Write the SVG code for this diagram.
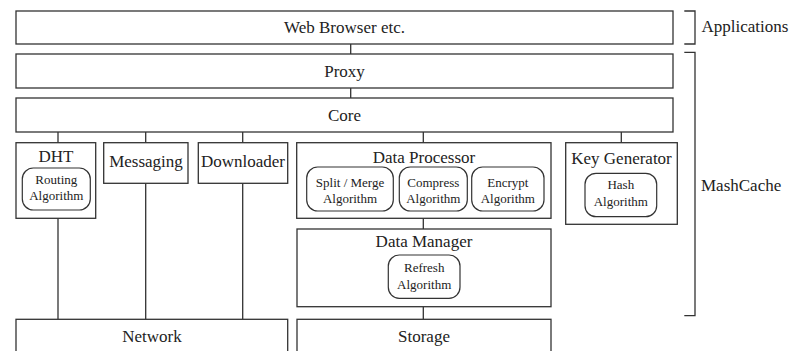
<svg xmlns="http://www.w3.org/2000/svg" width="789" height="351" viewBox="0 0 789 351">
<style>
.b{fill:#fff;stroke:#333;stroke-width:1.3}
.r{fill:#fff;stroke:#333;stroke-width:1.2}
.l{fill:none;stroke:#333;stroke-width:1.3}
text{font-family:"Liberation Serif","Times New Roman",serif;fill:#222}
.t{font-size:17px;text-anchor:middle}
.s{font-size:13px;text-anchor:middle}
.a{font-size:17px}
</style>
<rect width="789" height="351" fill="#fff"/>
<g id="connectors">
<path class="l" d="M350.7 44V54M350.7 88V98M58 132V142.7M145.7 132V142.7M242.7 132V142.7M423.3 132V142.7M621.3 132V142.7M58 218.3V319.3M145.7 183.3V319.3M242.7 183.3V319.3M423.3 218.3V229M423.3 306.7V319.3"/>
</g>
<g id="web"><rect class="b" x="16" y="11" width="657" height="33"/><text class="t" x="344.5" y="33">Web Browser etc.</text></g>
<g id="proxy"><rect class="b" x="16" y="54" width="657" height="34"/><text class="t" x="344.5" y="77">Proxy</text></g>
<g id="core"><rect class="b" x="16" y="98" width="657" height="34"/><text class="t" x="344.5" y="121">Core</text></g>
<g id="dht"><rect class="b" x="16" y="142.7" width="79.7" height="75.6"/><text class="t" x="56" y="162">DHT</text>
<rect class="r" x="22.3" y="168" width="68" height="42" rx="11"/><text class="s" x="56.3" y="184">Routing</text><text class="s" x="56.3" y="200">Algorithm</text></g>
<g id="messaging"><rect class="b" x="103.7" y="142.7" width="84.3" height="40.6"/><text class="t" x="146" y="167">Messaging</text></g>
<g id="downloader"><rect class="b" x="198.3" y="142.7" width="89.4" height="40.6"/><text class="t" x="243" y="167">Downloader</text></g>
<g id="dataprocessor"><rect class="b" x="296.7" y="142.7" width="254.3" height="75.6"/><text class="t" x="424" y="163">Data Processor</text>
<rect class="r" x="306.7" y="167" width="86.6" height="44" rx="11"/><text class="s" x="350" y="187">Split / Merge</text><text class="s" x="350" y="203">Algorithm</text>
<rect class="r" x="399.3" y="167" width="68" height="44" rx="11"/><text class="s" x="433.3" y="187">Compress</text><text class="s" x="433.3" y="203">Algorithm</text>
<rect class="r" x="471.7" y="167" width="72.3" height="44" rx="11"/><text class="s" x="507.8" y="187">Encrypt</text><text class="s" x="507.8" y="203">Algorithm</text></g>
<g id="keygen"><rect class="b" x="565.7" y="142.7" width="111.6" height="81.6"/><text class="t" x="621.5" y="164">Key Generator</text>
<rect class="r" x="585" y="173.3" width="71.7" height="43.4" rx="11"/><text class="s" x="620.8" y="189">Hash</text><text class="s" x="620.8" y="206">Algorithm</text></g>
<g id="datamanager"><rect class="b" x="297" y="229" width="254" height="77.7"/><text class="t" x="424" y="247">Data Manager</text>
<rect class="r" x="388.3" y="255" width="71.7" height="43.3" rx="11"/><text class="s" x="424.2" y="272">Refresh</text><text class="s" x="424.2" y="289">Algorithm</text></g>
<g id="network"><rect class="b" x="16" y="319.3" width="271.7" height="40"/><text class="t" x="152" y="342">Network</text></g>
<g id="storage"><rect class="b" x="297" y="319.3" width="254" height="40"/><text class="t" x="424" y="342">Storage</text></g>
<g id="applications"><path class="l" d="M684.3 11H695V44H684.3"/><text class="a" x="701.5" y="32">Applications</text></g>
<g id="mashcache"><path class="l" d="M684.3 52.3H695V315.7H684.3"/><text class="a" x="701" y="191">MashCache</text></g>
</svg>
